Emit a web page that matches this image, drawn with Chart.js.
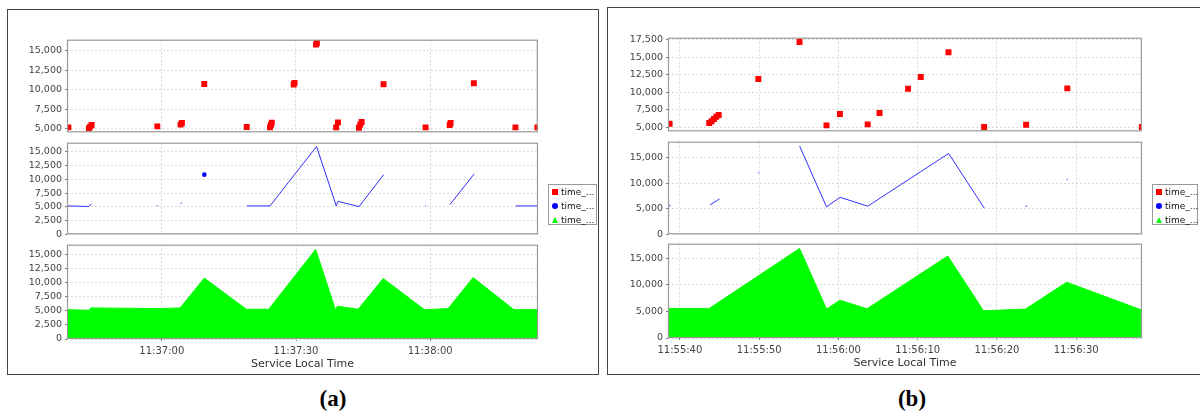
<!DOCTYPE html>
<html>
<head>
<meta charset="utf-8">
<title>Service Local Time</title>
<script src="https://cdn.jsdelivr.net/npm/chart.js@4.4.1/dist/chart.umd.min.js"></script>
<style>
  body { margin: 0; width: 1200px; height: 416px; background: #fff; position: relative; overflow: hidden; font-family: 'DejaVu Sans', sans-serif; }
  .panel { position: absolute; border: 1px solid #444; box-sizing: border-box; }
  .legend { position: absolute; border: 1px solid #999; background: #fff; box-sizing: border-box; font-size: 9px; color: #111; }
  .legend .item { position: absolute; left: 0; height: 12px; line-height: 12px; white-space: nowrap; }
  .legend .item span.txt { position: absolute; left: 12px; }
  .mk { position: absolute; left: 3px; top: 3px; width: 6px; height: 6px; }
  .mk.sq { background: #ff0000; }
  .mk.ci { background: #0000ff; border-radius: 50%; }
  .mk.tr { width: 0; height: 0; border-left: 3.5px solid transparent; border-right: 3.5px solid transparent; border-bottom: 6px solid #00ff00; }
  .caption { position: absolute; font-family: 'Liberation Serif', 'DejaVu Serif', serif; font-weight: bold; font-size: 23px; line-height: 23px; transform: translateX(-50%); color: #000; }
</style>
</head>
<body>
<div class="panel" style="left:7px;top:9px;width:592px;height:366px"></div>
<div class="panel" style="left:607px;top:7px;width:600px;height:368px"></div>
<div class="caption" style="left:333px;top:387px">(a)</div>
<div class="caption" style="left:912px;top:387px">(b)</div>

<script>
// ---- panel (a): values ----
const scatterTimesA = ['11:36:39.1','11:36:43.7','11:36:44.0','11:36:44.3','11:36:59.0','11:37:04.2','11:37:04.5',
  '11:37:09.5','11:37:19.0','11:37:24.2','11:37:24.4','11:37:24.6','11:37:29.5','11:37:29.7','11:37:34.5','11:37:34.7',
  '11:37:39.0','11:37:39.4','11:37:44.1','11:37:44.4','11:37:44.7','11:37:49.6','11:37:59.0','11:38:04.4','11:38:04.6',
  '11:38:09.8','11:38:19.1','11:38:24.0'];
const scatterValuesA = [5200,5100,5300,5500,5330,5550,5750,10760,5250,5200,5500,5800,10700,10900,15800,16000,
  5200,5830,5150,5550,5900,10720,5200,5500,5760,10850,5200,5200];

// null = gap in the line
const lineTimesA = ['11:36:38.9','11:36:43.7','11:36:44.3','11:36:50.0','11:36:58.9','11:36:59.1','11:37:02.0',
  '11:37:04.2','11:37:04.5','11:37:07.0','11:37:09.5','11:37:14.0','11:37:19.0','11:37:24.2','11:37:29.5','11:37:34.6',
  '11:37:39.0','11:37:39.4','11:37:44.1','11:37:49.6','11:37:55.0','11:37:58.9','11:37:59.1','11:38:02.0','11:38:04.4',
  '11:38:09.8','11:38:15.0','11:38:19.1','11:38:24.1'];
const lineValuesA = [5160,5050,5550,null,5250,5200,null,5550,5750,null,10850,null,5160,5160,10700,15940,
  5160,5980,5035,10850,null,5160,5160,null,5390,10960,null,5160,5160];

const areaTimesA = ['11:36:38.8','11:36:43.8','11:36:44.1','11:36:59.0','11:37:04.1','11:37:09.5','11:37:18.9',
  '11:37:23.9','11:37:34.4','11:37:38.8','11:37:39.3','11:37:43.9','11:37:49.5','11:37:58.7','11:38:04.0','11:38:09.6',
  '11:38:18.7','11:38:24.1'];
const areaValuesA = [5210,5100,5520,5400,5520,10800,5280,5280,15890,5210,5820,5280,10730,5210,5390,10900,5210,5210];

const xRangeA = ['11:36:38.8','11:38:24.1'];
const xTicksA = ['11:37:00','11:37:30','11:38:00'];
const yRangeA = [[4570,16425],[0,16655],[0,16726]];
const yTicksA = [[5000,7500,10000,12500,15000],[0,2500,5000,7500,10000,12500,15000],[0,2500,5000,7500,10000,12500,15000]];

// ---- panel (b) ----
const scatterTimesB = ['11:55:38.7','11:55:43.7','11:55:44.0','11:55:44.3','11:55:44.6','11:55:44.9','11:55:49.9',
  '11:55:55.1','11:55:58.5','11:56:00.2','11:56:03.7','11:56:05.2','11:56:08.8','11:56:10.4','11:56:13.9','11:56:18.4',
  '11:56:23.7','11:56:28.9','11:56:38.3'];
const scatterValuesB = [5560,5660,5900,6220,6540,6780,11880,17120,5320,6920,5460,7080,10520,12160,15690,5100,5420,10560,5100];

const lineTimesB = ['11:55:38.6','11:55:38.8','11:55:41.0','11:55:43.8','11:55:45.0','11:55:47.0','11:55:49.85',
  '11:55:50.0','11:55:52.0','11:55:55.1','11:55:58.5','11:56:00.2','11:56:03.7','11:56:05.3','11:56:08.8','11:56:10.4',
  '11:56:13.9','11:56:18.4','11:56:21.0','11:56:23.6','11:56:23.8','11:56:26.0','11:56:28.8','11:56:28.95'];
const lineValuesB = [5610,5580,null,5750,6900,null,11950,12050,null,17240,5360,7220,5490,7100,10630,12240,
  15770,5110,null,5490,5470,null,10700,10760];

const areaTimesB = ['11:55:38.5','11:55:43.7','11:55:55.1','11:55:58.5','11:56:00.2','11:56:03.6','11:56:13.8',
  '11:56:18.3','11:56:23.6','11:56:28.8','11:56:38.3'];
const areaValuesB = [5570,5570,16875,5440,7125,5500,15440,5125,5440,10500,5250];

const xRangeB = ['11:55:38.5','11:56:38.3'];
const xTicksB = ['11:55:40','11:55:50','11:56:00','11:56:10','11:56:20','11:56:30'];
const yRangeB = [[4480,17740],[0,18070],[0,17760]];
const yTicksB = [[5000,7500,10000,12500,15000,17500],[0,5000,10000,15000],[0,5000,10000,15000]];

const seriesNames = ['time_...','time_...','time_...'];
const axisTitle = 'Service Local Time';

// ---- helpers ----
function sec(t) {
  const p = t.split(':');
  return (+p[0]) * 3600 + (+p[1]) * 60 + parseFloat(p[2]);
}
function hms(v) {
  const s = Math.round(v);
  const h = Math.floor(s / 3600), m = Math.floor(s / 60) % 60, x = s % 60;
  return h + ':' + String(m).padStart(2, '0') + ':' + String(x).padStart(2, '0');
}
function pts(times, values) {
  return times.map((t, i) => ({ x: sec(t), y: values[i] }));
}

Chart.defaults.font.family = "'DejaVu Sans', sans-serif";
Chart.defaults.animation = false;

const Y_W = 58, PAD = 8, X_H = 35;
const GRID = '#dadada';

// grey frame around each plot area
const outline = {
  id: 'outline',
  afterDraw(chart) {
    const { ctx, chartArea: a } = chart;
    ctx.save();
    ctx.strokeStyle = '#999';
    ctx.lineWidth = 1.2;
    ctx.strokeRect(a.left + 0.5, a.top + 0.5, a.width - 1, a.height - 1);
    ctx.restore();
  }
};

function isolated(ctx) {
  const d = ctx.dataset.data, i = ctx.dataIndex;
  if (!d[i] || d[i].y === null) return 0;
  const prev = d[i - 1], next = d[i + 1];
  return ((!prev || prev.y === null) && (!next || next.y === null)) ? 2.3 : 0;
}

function makeDataset(kind, data) {
  if (kind === 'scatter') {
    return { data, showLine: false, pointStyle: 'rect', pointRadius: 4.2, pointBackgroundColor: '#ff0000',
      pointBorderWidth: 0, borderWidth: 0, clip: 0 };
  }
  if (kind === 'line') {
    return { data, borderColor: '#3030ff', borderWidth: 1, tension: 0, spanGaps: false, pointRadius: isolated,
      pointBackgroundColor: '#0000ff', pointBorderWidth: 0, clip: 0 };
  }
  return { data, fill: 'origin', backgroundColor: '#00ff00', borderColor: '#00ff00', borderWidth: 1,
    tension: 0, pointRadius: 0, clip: 0 };
}

function plot(rect, kind, data, yRange, yTicks, xRange, xTicks, last) {
  const cv = document.createElement('canvas');
  cv.width = rect[1] - rect[0] + Y_W + 4;
  cv.height = rect[3] - rect[2] + PAD + (last ? X_H : PAD);
  cv.style.cssText = 'position:absolute;left:' + (rect[0] - Y_W) + 'px;top:' + (rect[2] - PAD) + 'px';
  document.body.appendChild(cv);

  new Chart(cv.getContext('2d'), {
    type: 'line',
    data: { datasets: [makeDataset(kind, data)] },
    options: {
      responsive: false,
      events: [],
      layout: { padding: { top: PAD, right: 4, bottom: last ? 0 : PAD, left: 0 } },
      plugins: { legend: { display: false }, tooltip: { enabled: false } },
      scales: {
        x: {
          type: 'linear',
          min: sec(xRange[0]),
          max: sec(xRange[1]),
          afterBuildTicks: s => { s.ticks = xTicks.map(t => ({ value: sec(t) })); },
          afterFit: s => { s.height = last ? X_H : 0; },
          grid: { color: GRID, drawTicks: last, tickLength: 2, tickColor: '#777' },
          border: { display: false, dash: [2, 2] },
          ticks: { display: last, padding: 4, autoSkip: false, maxRotation: 0, color: '#444',
            font: { size: 10 }, callback: v => hms(v) },
          title: { display: last, text: axisTitle, color: '#333', font: { size: 11 }, padding: { top: 0, bottom: 3 } }
        },
        y: {
          min: yRange[0],
          max: yRange[1],
          afterBuildTicks: s => { s.ticks = yTicks.map(v => ({ value: v })); },
          afterFit: s => { s.width = Y_W; },
          grid: { color: GRID, drawTicks: true, tickLength: 2, tickColor: '#777' },
          border: { display: false, dash: [2, 2] },
          ticks: { padding: 3, autoSkip: false, color: '#444', font: { size: 9.5 },
            callback: v => v.toLocaleString('en-US') }
        }
      }
    },
    plugins: [outline]
  });
}

function legend(left, top, width) {
  const box = document.createElement('div');
  box.className = 'legend';
  box.style.cssText = 'left:' + left + 'px;top:' + top + 'px;width:' + width + 'px;height:41px';
  const marks = ['sq', 'ci', 'tr'];
  seriesNames.forEach((name, i) => {
    const it = document.createElement('div');
    it.className = 'item';
    it.style.top = (1 + i * 14) + 'px';
    it.innerHTML = '<div class="mk ' + marks[i] + '"></div><span class="txt">' + name + '</span>';
    box.appendChild(it);
  });
  document.body.appendChild(box);
}

// panel (a)
plot([67, 538, 39, 133], 'scatter', pts(scatterTimesA, scatterValuesA), yRangeA[0], yTicksA[0], xRangeA, xTicksA, false);
plot([67, 538, 142, 235], 'line', pts(lineTimesA, lineValuesA), yRangeA[1], yTicksA[1], xRangeA, xTicksA, false);
plot([67, 538, 244, 339], 'area', pts(areaTimesA, areaValuesA), yRangeA[2], yTicksA[2], xRangeA, xTicksA, true);
legend(548, 184, 49);

// panel (b)
plot([668, 1142, 37, 132], 'scatter', pts(scatterTimesB, scatterValuesB), yRangeB[0], yTicksB[0], xRangeB, xTicksB, false);
plot([668, 1142, 141, 235], 'line', pts(lineTimesB, lineValuesB), yRangeB[1], yTicksB[1], xRangeB, xTicksB, false);
plot([668, 1142, 243, 338], 'area', pts(areaTimesB, areaValuesB), yRangeB[2], yTicksB[2], xRangeB, xTicksB, true);
legend(1152, 184, 46);
</script>
</body>
</html>
